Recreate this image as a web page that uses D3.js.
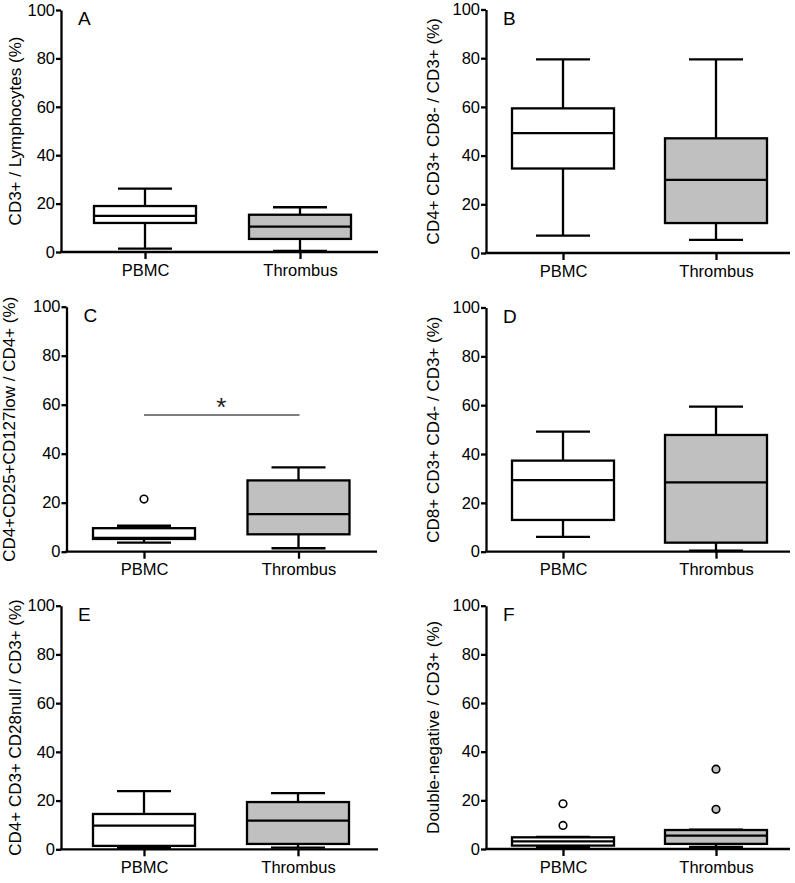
<!DOCTYPE html>
<html>
<head>
<meta charset="utf-8">
<script src="https://cdn.jsdelivr.net/npm/d3@7"></script>
<style>
  html, body { margin: 0; padding: 0; background: #fff; }
  svg { display: block; font-family: "Liberation Sans", Arial, sans-serif; }
</style>
</head>
<body>
<svg id="chart" width="795" height="883"></svg>
<script>
// ---------- data ----------
const panelLetters = ["A", "B", "C", "D", "E", "F"];
const categories = ["PBMC", "Thrombus"];
const yTicks = [0, 20, 40, 60, 80, 100];
const yTitles = [
  "CD3+ / Lymphocytes (%)",
  "CD4+ CD3+ CD8- / CD3+ (%)",
  "CD4+CD25+CD127low / CD4+ (%)",
  "CD8+ CD3+ CD4- / CD3+ (%)",
  "CD4+ CD3+ CD28null / CD3+ (%)",
  "Double-negative / CD3+ (%)"
];
// [whisker low, Q1, median, Q3, whisker high]
const pbmcStats = [
  [1.4, 12.0, 14.9, 19.0, 26.2],
  [7.1, 34.7, 49.2, 59.4, 79.5],
  [3.7, 5.2, 5.6, 9.6, 10.6],
  [6.1, 13.0, 29.3, 37.3, 49.2],
  [0.6, 1.4, 9.7, 14.5, 23.9],
  [0.9, 1.4, 3.1, 4.8, 5.0]
];
const thrombusStats = [
  [0.5, 5.4, 10.5, 15.4, 18.5],
  [5.4, 12.3, 30.0, 47.1, 79.5],
  [1.4, 7.1, 15.3, 29.1, 34.4],
  [0.4, 3.7, 28.4, 47.8, 59.4],
  [0.7, 2.2, 11.8, 19.4, 23.1],
  [0.9, 2.1, 5.5, 7.8, 8.0]
];
const pbmcOutliers = [[], [], [21.5], [], [], [18.6, 9.7]];
const thrombusOutliers = [[], [], [], [], [], [32.8, 16.3]];
// significance bar: [panel index, value]
const significance = [[2, 55.8]];

// ---------- layout ----------
const layout = [
  { axisX: 61,  endX: 378, y0: 252,   y100: 10,    c: [145, 300] },
  { axisX: 486, endX: 790, y0: 253,   y100: 9.5,   c: [563, 716] },
  { axisX: 66.5,endX: 377, y0: 551.7, y100: 306.7, c: [144, 298.5] },
  { axisX: 486, endX: 790, y0: 551.7, y100: 307.5, c: [563, 716] },
  { axisX: 61,  endX: 378, y0: 849.3, y100: 605.7, c: [144, 298] },
  { axisX: 486, endX: 790, y0: 849,   y100: 605.7, c: [563, 716] }
];
const titleOffset = [46, 53, 57, 53, 46, 53];
const fills = ["#ffffff", "#c0c0c0"];
const boxW = 102, capW = 54;
const FS = 16.5;
const SW = 2.3;

const svg = d3.select("#chart");

panelLetters.forEach((letter, i) => {
  const L = layout[i];
  const g = svg.append("g");
  const y = d3.scaleLinear().domain([0, 100]).range([L.y0, L.y100]);
  const x = d3.scalePoint().domain(categories).range(L.c);

  // y axis
  const ya = g.append("g")
    .attr("transform", `translate(${L.axisX},0)`)
    .call(d3.axisLeft(y).tickValues(yTicks).tickSize(5).tickSizeOuter(0));
  ya.select(".domain").attr("stroke", "#000").attr("stroke-width", SW);
  ya.selectAll(".tick line").attr("stroke", "#000").attr("stroke-width", SW);
  ya.selectAll(".tick text").attr("font-size", FS).attr("fill", "#000")
    .attr("font-family", "Liberation Sans, Arial, sans-serif").attr("x", -6);

  // x axis
  const xa = g.append("g")
    .attr("transform", `translate(0,${L.y0})`)
    .call(d3.axisBottom(x).tickSize(7).tickSizeOuter(0));
  xa.select(".domain").remove();
  xa.selectAll(".tick line").attr("stroke", "#000").attr("stroke-width", SW);
  xa.selectAll(".tick text").attr("font-size", FS).attr("fill", "#000")
    .attr("font-family", "Liberation Sans, Arial, sans-serif").attr("y", 12);
  g.append("line")
    .attr("x1", L.axisX - 1).attr("x2", L.endX)
    .attr("y1", L.y0).attr("y2", L.y0)
    .attr("stroke", "#000").attr("stroke-width", SW);

  // y title
  g.append("text")
    .attr("transform", `translate(${L.axisX - titleOffset[i]},${(L.y0 + L.y100) / 2}) rotate(-90)`)
    .attr("text-anchor", "middle")
    .attr("dy", "0.35em")
    .attr("font-size", 17)
    .attr("fill", "#000")
    .text(yTitles[i]);

  // panel letter
  g.append("text")
    .attr("x", L.axisX + 17)
    .attr("y", L.y100 + 15)
    .attr("font-size", 19)
    .attr("fill", "#000")
    .text(letter);

  // boxes
  const groups = [
    { cat: categories[0], s: pbmcStats[i], out: pbmcOutliers[i], fill: fills[0] },
    { cat: categories[1], s: thrombusStats[i], out: thrombusOutliers[i], fill: fills[1] }
  ];
  groups.forEach(d => {
    const cx = x(d.cat);
    const [lo, q1, med, q3, hi] = d.s;
    const bg = g.append("g").attr("stroke", "#000").attr("stroke-width", SW);
    // whiskers
    bg.append("line").attr("x1", cx).attr("x2", cx).attr("y1", y(hi)).attr("y2", y(q3));
    bg.append("line").attr("x1", cx).attr("x2", cx).attr("y1", y(q1)).attr("y2", y(lo));
    bg.append("line").attr("x1", cx - capW / 2).attr("x2", cx + capW / 2).attr("y1", y(hi)).attr("y2", y(hi));
    bg.append("line").attr("x1", cx - capW / 2).attr("x2", cx + capW / 2).attr("y1", y(lo)).attr("y2", y(lo));
    // box
    bg.append("rect")
      .attr("x", cx - boxW / 2).attr("width", boxW)
      .attr("y", y(q3)).attr("height", y(q1) - y(q3))
      .attr("fill", d.fill);
    bg.append("line").attr("x1", cx - boxW / 2).attr("x2", cx + boxW / 2).attr("y1", y(med)).attr("y2", y(med));
    // outliers
    d.out.forEach(v => {
      g.append("circle")
        .attr("cx", cx).attr("cy", y(v)).attr("r", 3.8)
        .attr("fill", d.fill).attr("stroke", "#000").attr("stroke-width", 1.6);
    });
  });

  // significance
  significance.filter(s => s[0] === i).forEach(s => {
    const yy = y(s[1]);
    g.append("line")
      .attr("x1", x(categories[0])).attr("x2", x(categories[1]) + 1)
      .attr("y1", yy).attr("y2", yy)
      .attr("stroke", "#555").attr("stroke-width", 1.5);
    g.append("text")
      .attr("x", (x(categories[0]) + x(categories[1])) / 2)
      .attr("y", yy + 1)
      .attr("text-anchor", "middle")
      .attr("font-size", 26)
      .attr("fill", "#222")
      .text("*");
  });
});
</script>
</body>
</html>
